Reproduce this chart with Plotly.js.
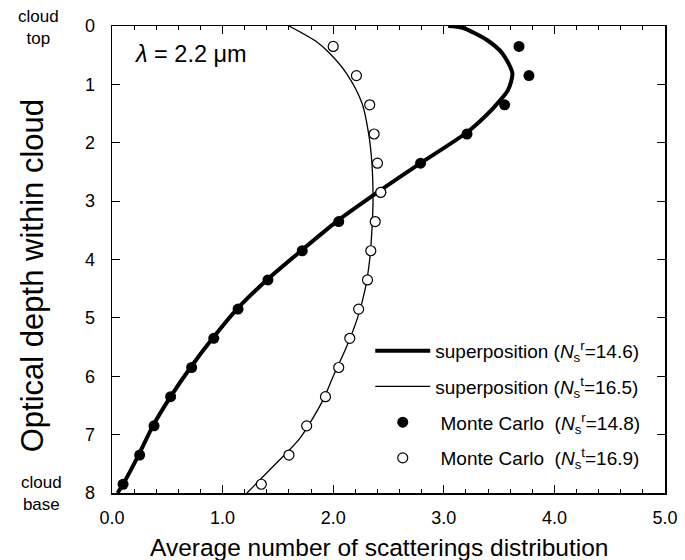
<!DOCTYPE html>
<html>
<head>
<meta charset="utf-8">
<script src="https://cdn.plot.ly/plotly-3.0.1.min.js"></script>
<style>html,body{margin:0;padding:0;background:#fff;}#chart{width:685px;height:560px;}</style>
</head>
<body>
<div id="chart"></div>
<script>
// Monte Carlo depths (optical depth within cloud)
var mcDepth = [0.35, 0.85, 1.35, 1.85, 2.35, 2.85, 3.35, 3.85, 4.35, 4.85, 5.35, 5.85, 6.35, 6.85, 7.35, 7.85];
var mcReflected = [3.68, 3.77, 3.55, 3.21, 2.79, 2.43, 2.05, 1.72, 1.41, 1.14, 0.92, 0.72, 0.53, 0.38, 0.25, 0.10];
var mcTransmitted = [2.00, 2.21, 2.33, 2.37, 2.40, 2.43, 2.38, 2.34, 2.31, 2.23, 2.15, 2.05, 1.93, 1.76, 1.60, 1.35];

// Superposition curves
var supRDepth = [0, 0.03, 0.24, 0.47, 0.81, 1.10, 1.38, 1.66, 1.85, 2.35, 2.85, 3.35, 3.85, 4.35, 4.85, 5.35, 5.85, 6.35, 6.85, 7.35, 7.85, 8.0];
var supRValue = [3.04, 3.17, 3.39, 3.53, 3.62, 3.58, 3.46, 3.31, 3.19, 2.79, 2.40, 2.03, 1.71, 1.40, 1.13, 0.91, 0.71, 0.53, 0.37, 0.24, 0.10, 0.05];
var supTDepth = [0, 0.27, 0.47, 0.81, 1.32, 1.84, 2.35, 3.0, 3.5, 4.0, 4.5, 5.0, 5.5, 6.0, 6.4, 7.06, 7.5, 8.0];
var supTValue = [1.60, 1.85, 1.97, 2.12, 2.26, 2.32, 2.35, 2.36, 2.35, 2.33, 2.29, 2.22, 2.12, 2.00, 1.91, 1.70, 1.48, 1.22];

var legendNames = [
  'superposition (<i>N</i><sub>s</sub><sup>r</sup>=14.6)',
  'superposition (<i>N</i><sub>s</sub><sup>t</sup>=16.5)',
  '\u00a0Monte Carlo\u00a0\u00a0(<i>N</i><sub>s</sub><sup>r</sup>=14.8)',
  '\u00a0Monte Carlo\u00a0\u00a0(<i>N</i><sub>s</sub><sup>t</sup>=16.9)'
];
var xTitle = 'Average number of scatterings distribution';
var yTitle = 'Optical depth within cloud';

var traces = [
  {x: supRValue, y: supRDepth, mode: 'lines', name: legendNames[0], legendgroup: 'a',
   line: {color: '#000', width: 4, shape: 'spline', smoothing: 0.7}},
  {x: supTValue, y: supTDepth, mode: 'lines', name: legendNames[1], legendgroup: 'b',
   line: {color: '#000', width: 1.3, shape: 'spline', smoothing: 0.8}},
  {x: mcReflected, y: mcDepth, mode: 'markers', name: legendNames[2], legendgroup: 'c',
   marker: {symbol: 'circle', color: '#000', size: 11}},
  {x: mcTransmitted, y: mcDepth, mode: 'markers', name: legendNames[3], legendgroup: 'd',
   marker: {symbol: 'circle', color: '#fff', size: 10, line: {color: '#000', width: 1.2}}}
];

var fam = 'Liberation Sans, Arial, sans-serif';
var axisFont = {family: fam, size: 18, color: '#000'};
var noteFont = {family: fam, size: 17, color: '#000'};

var layout = {
  width: 685, height: 560,
  margin: {l: 112, r: 20, t: 26, b: 67},
  paper_bgcolor: '#fff', plot_bgcolor: '#fff',
  font: {family: fam, color: '#000'},
  showlegend: true,
  legend: {x: 0.467, y: 0.345, xanchor: 'left', yanchor: 'top', bgcolor: 'rgba(0,0,0,0)',
           font: {size: 19, color: '#000'}, tracegroupgap: 8, itemwidth: 55},
  xaxis: {range: [0, 5], dtick: 1, tick0: 0, tickformat: '.1f', ticks: 'inside', ticklen: 8,
          tickcolor: '#000', showline: true, linecolor: '#000', linewidth: 1.5, mirror: 'ticks',
          showgrid: false, zeroline: false, tickfont: axisFont, ticklabelstandoff: 8,
          minor: {dtick: 0.2, ticks: 'inside', ticklen: 4, tickcolor: '#000', showgrid: false}},
  yaxis: {range: [8, 0], dtick: 1, tick0: 0, ticks: 'inside', ticklen: 8,
          tickcolor: '#000', showline: true, linecolor: '#000', linewidth: 1.5, mirror: 'ticks',
          showgrid: false, zeroline: false, tickfont: axisFont, ticklabelstandoff: 12},
  annotations: [
    {xref: 'paper', yref: 'paper', x: 0.483, y: -0.1166, xanchor: 'center', yanchor: 'middle', showarrow: false,
     text: xTitle, font: {family: fam, size: 24.5, color: '#000'}},
    {xref: 'paper', yref: 'paper', x: -0.1435, y: 0.4655, xanchor: 'center', yanchor: 'middle', showarrow: false,
     textangle: -90, text: yTitle, font: {family: fam, size: 31, color: '#000'}},
    {xref: 'paper', yref: 'paper', x: 0.037, y: 0.94, xanchor: 'left', yanchor: 'middle', showarrow: false,
     text: '<i>λ</i> = 2.2 μm', font: {family: fam, size: 23.5, color: '#000'}},
    {xref: 'paper', yref: 'paper', x: -0.1327, y: 0.9966, xanchor: 'center', yanchor: 'middle', showarrow: false,
     text: 'cloud<br>top', font: noteFont},
    {xref: 'paper', yref: 'paper', x: -0.127, y: -0.001, xanchor: 'center', yanchor: 'middle', showarrow: false,
     text: 'cloud<br>base', font: noteFont}
  ]
};

Plotly.newPlot('chart', traces, layout, {displayModeBar: false, staticPlot: true});
</script>
</body>
</html>
